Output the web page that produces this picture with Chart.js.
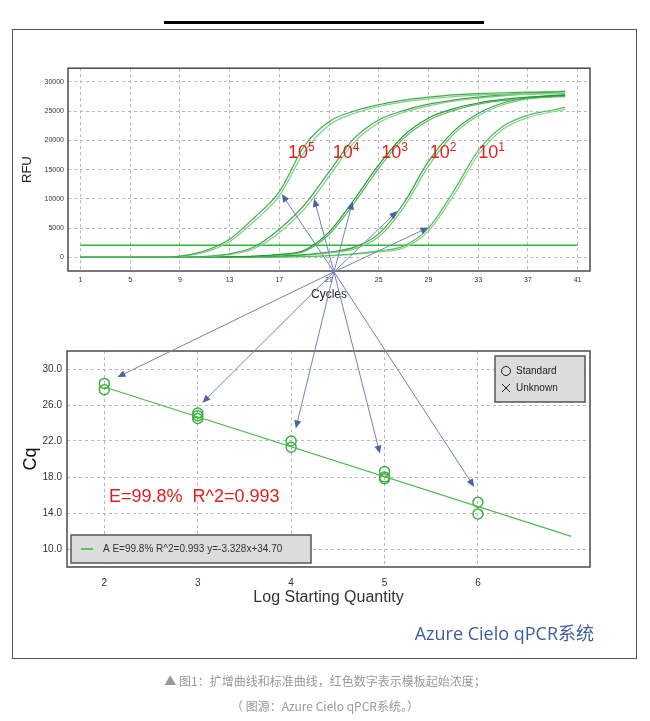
<!DOCTYPE html>
<html>
<head>
<meta charset="utf-8">
<script src="https://cdn.jsdelivr.net/npm/chart.js@4.4.0/dist/chart.umd.min.js"></script>
<style>
  body { margin: 0; background: #fff; }
  #page { position: relative; width: 650px; height: 721px; overflow: hidden; font-family: "Liberation Sans", Arial, sans-serif; }
  .bar { position: absolute; left: 164px; top: 21px; width: 320px; height: 3px; background: #000; }
  .frame { position: absolute; left: 12px; top: 29px; width: 623px; height: 628px; border: 1px solid #555; }
  .box { position: absolute; }
  #arrows { position: absolute; left: 0; top: 0; width: 650px; height: 721px; pointer-events: none; }
  .brand { position: absolute; right: 56px; top: 619px; font: 18px "Open Sans", "Noto Sans CJK SC", sans-serif; color: #3f5d9c; }
  .cap { position: absolute; left: 0; width: 650px; text-align: center; font: 12px "Noto Sans CJK SC", sans-serif; color: #999; }
</style>
</head>
<body>
<div id="page">
  <div class="bar"></div>
  <div class="frame"></div>
  <div class="box" style="left:20px;top:60px;width:580px;height:242px"><canvas id="amp"></canvas></div>
  <div class="box" style="left:20px;top:340px;width:580px;height:267px"><canvas id="std"></canvas></div>
  <canvas id="arrows"></canvas>
  <div class="brand">Azure Cielo qPCR系统</div>
  <div class="cap" style="top:672px">▲ 图1：扩增曲线和标准曲线，红色数字表示模板起始浓度；</div>
  <div class="cap" style="top:697px">（ 图源：Azure Cielo qPCR系统。）</div>
</div>
<script>
// amplification curves, RFU read per cycle
var cycles = [1, 3, 5, 7, 9, 11, 13, 15, 17, 19, 21, 23, 25, 27, 29, 31, 33, 35, 37, 39, 40];
var rfuA1 = [0, 0, 0, 20, 200, 1100, 3100, 6800, 11200, 19000, 23200, 25000, 26100, 26900, 27400, 27800, 28000, 28150, 28250, 28300, 28350];
var rfuA2 = [0, 0, 0, 10, 150, 850, 2700, 6200, 10500, 18000, 22600, 24600, 25800, 26600, 27100, 27500, 27750, 27900, 28000, 28050, 28100];
var rfuB1 = [0, 0, 0, 0, 20, 150, 600, 1800, 4800, 8900, 14600, 20300, 23500, 25100, 26200, 26900, 27400, 27800, 28100, 28300, 28450];
var rfuB2 = [0, 0, 0, 0, 10, 100, 450, 1500, 4200, 8200, 13800, 19600, 23000, 24800, 25900, 26700, 27200, 27600, 27850, 28000, 28050];
var rfuC1 = [0, 0, 0, 0, 0, 20, 80, 200, 500, 1200, 4300, 9800, 15800, 20800, 23800, 25400, 26400, 27000, 27400, 27600, 27700];
var rfuC2 = [0, 0, 0, 0, 0, 10, 50, 150, 400, 1000, 3900, 9200, 15200, 20300, 23400, 25100, 26200, 26800, 27200, 27450, 27500];
var rfuD1 = [0, 0, 0, 0, 0, 0, 20, 80, 200, 450, 900, 1700, 4000, 9200, 16400, 21500, 24600, 26400, 27300, 27700, 27800];
var rfuD2 = [0, 0, 0, 0, 0, 0, 10, 50, 150, 350, 750, 1400, 3500, 8500, 15600, 21000, 24200, 26100, 27100, 27500, 27650];
var rfuE1 = [0, 0, 0, 0, 0, 0, 0, 20, 60, 150, 300, 600, 1100, 1900, 5000, 11200, 18200, 22400, 24300, 25200, 25700];
var rfuE2 = [0, 0, 0, 0, 0, 0, 0, 10, 40, 100, 220, 480, 900, 1600, 4500, 10500, 17500, 21900, 23900, 24900, 25300];
var thresholdCycles = [1, 41];
var thresholdRFU = [2050, 2050];
var cycleTicks = [1, 5, 9, 13, 17, 21, 25, 29, 33, 37, 41];
var rfuTicks = [0, 5000, 10000, 15000, 20000, 25000, 30000];
var startExp = ['5', '4', '3', '2', '1'];

// standard curve
var stdLogQ = [2, 2, 3, 3, 3, 4, 4, 5, 5, 5, 6, 6];
var stdCq = [28.4, 27.7, 25.1, 24.8, 24.5, 22.0, 21.3, 18.6, 18.0, 17.8, 15.2, 13.9];
var fitLogQ = [2, 7];
var fitCq = [28.0, 11.4];
var logTicks = [2, 3, 4, 5, 6];
var cqTicks = [10, 14, 18, 22, 26, 30];

var FONT = '"Liberation Sans", Arial, sans-serif';

function xy(xs, ys) {
  return xs.map(function(x, i) { return {x: x, y: ys[i]}; });
}

function curve(ys, color) {
  return {
    data: xy(cycles, ys),
    borderColor: color,
    borderWidth: 1.2,
    pointRadius: 0,
    cubicInterpolationMode: 'monotone',
    fill: false
  };
}

function fixTicks(list) {
  return function(scale) { scale.ticks = list.map(function(v) { return {value: v}; }); };
}

var framePlugin = {
  id: 'frame',
  afterDraw: function(chart) {
    var a = chart.chartArea, ctx = chart.ctx;
    ctx.save();
    ctx.strokeStyle = '#4a4a4a';
    ctx.lineWidth = 1.5;
    ctx.strokeRect(a.left, a.top, a.right - a.left, a.bottom - a.top);
    ctx.restore();
  }
};

var powerLabels = {
  id: 'powerLabels',
  afterDraw: function(chart, args, opts) {
    var ctx = chart.ctx, sx = chart.scales.x, sy = chart.scales.y;
    ctx.save();
    ctx.fillStyle = '#e0201e';
    ctx.textBaseline = 'middle';
    startExp.forEach(function(e, i) {
      var px = sx.getPixelForValue(opts.at[i]), py = sy.getPixelForValue(opts.rfu);
      ctx.font = '18px ' + FONT;
      ctx.fillText('10', px, py);
      var w = ctx.measureText('10').width;
      ctx.font = '12px ' + FONT;
      ctx.fillText(e, px + w, py - 5);
    });
    ctx.restore();
  }
};

var stdDecor = {
  id: 'stdDecor',
  afterDraw: function(chart) {
    var a = chart.chartArea, ctx = chart.ctx, sx = chart.scales.x, sy = chart.scales.y;
    ctx.save();
    // legend, top right
    var lw = 90, lh = 46, lx = a.right - lw - 5, ly = a.top + 5;
    ctx.fillStyle = '#dcdcdc';
    ctx.fillRect(lx, ly, lw, lh);
    ctx.strokeStyle = '#555';
    ctx.lineWidth = 1.5;
    ctx.strokeRect(lx, ly, lw, lh);
    ctx.strokeStyle = '#222';
    ctx.lineWidth = 1;
    ctx.beginPath();
    ctx.arc(lx + 11, ly + 15, 4.5, 0, Math.PI * 2);
    ctx.stroke();
    ctx.beginPath();
    ctx.moveTo(lx + 7, ly + 28); ctx.lineTo(lx + 15, ly + 36);
    ctx.moveTo(lx + 15, ly + 28); ctx.lineTo(lx + 7, ly + 36);
    ctx.stroke();
    ctx.fillStyle = '#222';
    ctx.font = '10px ' + FONT;
    ctx.textBaseline = 'middle';
    ctx.fillText('Standard', lx + 21, ly + 15);
    ctx.fillText('Unknown', lx + 21, ly + 32);
    // fit legend, bottom left
    var bw = 240, bh = 28, bx = a.left + 4, by = a.bottom - bh - 4;
    ctx.fillStyle = '#dcdcdc';
    ctx.fillRect(bx, by, bw, bh);
    ctx.strokeStyle = '#555';
    ctx.lineWidth = 1.5;
    ctx.strokeRect(bx, by, bw, bh);
    ctx.strokeStyle = '#5cc45c';
    ctx.lineWidth = 2;
    ctx.beginPath();
    ctx.moveTo(bx + 10, by + bh / 2); ctx.lineTo(bx + 22, by + bh / 2);
    ctx.stroke();
    ctx.fillStyle = '#333';
    ctx.fillText('A E=99.8% R^2=0.993 y=-3.328x+34.70', bx + 32, by + bh / 2);
    // efficiency note
    ctx.fillStyle = '#e0201e';
    ctx.font = '18px ' + FONT;
    ctx.fillText('E=99.8%  R^2=0.993', sx.getPixelForValue(2.05), sy.getPixelForValue(15.75));
    ctx.restore();
  }
};

var gridOpts = {color: '#b8b8b8', lineWidth: 1, drawTicks: false};
var borderOpts = {display: false, dash: [3, 3]};

var ampChart = new Chart(document.getElementById('amp'), {
  type: 'line',
  data: {
    datasets: [
      curve(rfuA1, '#40ab4a'), curve(rfuA2, '#80cf87'),
      curve(rfuB1, '#40ab4a'), curve(rfuB2, '#80cf87'),
      curve(rfuC1, '#2b9636'), curve(rfuC2, '#55bb5e'),
      curve(rfuD1, '#36a541'), curve(rfuD2, '#76c97e'),
      curve(rfuE1, '#55bb5e'), curve(rfuE2, '#8ad390'),
      {data: xy(thresholdCycles, thresholdRFU), borderColor: '#2fb83a', borderWidth: 1.6, pointRadius: 0}
    ]
  },
  options: {
    responsive: true,
    maintainAspectRatio: false,
    animation: false,
    layout: {padding: {top: 8, right: 10, left: 0, bottom: 0}},
    plugins: {legend: {display: false}, tooltip: {enabled: false},
      powerLabels: {at: [17.7, 21.3, 25.2, 29.1, 33.0], rfu: 17850}},
    scales: {
      x: {
        type: 'linear', min: 0, max: 42,
        afterBuildTicks: fixTicks(cycleTicks),
        afterFit: function(s) { s.height = 31; },
        grid: gridOpts, border: borderOpts,
        ticks: {autoSkip: false, maxRotation: 0, padding: 5, color: '#333', font: {size: 7, family: FONT}},
        title: {display: true, text: 'Cycles', color: '#222', padding: {top: 2, bottom: 0}, font: {size: 12, family: FONT}}
      },
      y: {
        min: -2350, max: 32350,
        afterBuildTicks: fixTicks(rfuTicks),
        afterFit: function(s) { s.width = 48; },
        grid: gridOpts, border: borderOpts,
        ticks: {padding: 4, color: '#333', font: {size: 7, family: FONT}, callback: function(v) { return String(v); }},
        title: {display: true, text: 'RFU', color: '#222', padding: {top: 0, bottom: 4}, font: {size: 13, family: FONT}}
      }
    }
  },
  plugins: [framePlugin, powerLabels]
});

var stdChart = new Chart(document.getElementById('std'), {
  type: 'scatter',
  data: {
    datasets: [
      {type: 'line', data: xy(fitLogQ, fitCq), borderColor: '#4cbb4c', borderWidth: 1.2, pointRadius: 0},
      {data: xy(stdLogQ, stdCq), pointRadius: 5, borderWidth: 1.5, borderColor: '#3cb043', backgroundColor: 'rgba(0,0,0,0)'}
    ]
  },
  options: {
    responsive: true,
    maintainAspectRatio: false,
    animation: false,
    layout: {padding: {top: 9, right: 10, left: 0, bottom: 0}},
    plugins: {legend: {display: false}, tooltip: {enabled: false}},
    scales: {
      x: {
        type: 'linear', min: 1.6, max: 7.2,
        afterBuildTicks: fixTicks(logTicks),
        afterFit: function(s) { s.height = 40; },
        grid: gridOpts, border: borderOpts,
        ticks: {autoSkip: false, padding: 10, color: '#333', font: {size: 10, family: FONT}},
        title: {display: true, text: 'Log Starting Quantity', color: '#333', padding: {top: 3, bottom: 0}, font: {size: 16, family: FONT}}
      },
      y: {
        min: 8, max: 32,
        afterBuildTicks: fixTicks(cqTicks),
        afterFit: function(s) { s.width = 47; },
        grid: gridOpts, border: borderOpts,
        ticks: {padding: 5, color: '#333', font: {size: 10, family: FONT}, callback: function(v) { return v.toFixed(1); }},
        title: {display: true, text: 'Cq', color: '#111', padding: {top: 0, bottom: 2}, font: {size: 18, family: FONT}}
      }
    }
  },
  plugins: [framePlugin, stdDecor]
});

// arrows from one point under the amplification plot to each curve and each standard group
var arrowFrom = [21.4, -2500];
var arrowTop = [[17.2, 10800], [19.8, 10000], [22.9, 9500], [26.5, 7900], [29.0, 5100]];
var arrowBottom = [[2.14, 29.1], [3.05, 26.25], [4.05, 23.4], [4.95, 20.6], [5.96, 16.9]];

function drawArrows() {
  var ov = document.getElementById('arrows');
  var dpr = window.devicePixelRatio || 1;
  ov.width = 650 * dpr; ov.height = 721 * dpr;
  var ctx = ov.getContext('2d');
  ctx.scale(dpr, dpr);
  var page = document.getElementById('page').getBoundingClientRect();
  function toPage(chart, p) {
    var r = chart.canvas.getBoundingClientRect();
    return [r.left - page.left + chart.scales.x.getPixelForValue(p[0]),
            r.top - page.top + chart.scales.y.getPixelForValue(p[1])];
  }
  var o = toPage(ampChart, arrowFrom);
  var tips = arrowTop.map(function(p) { return toPage(ampChart, p); })
    .concat(arrowBottom.map(function(p) { return toPage(stdChart, p); }));
  tips.forEach(function(t) {
    var ang = Math.atan2(t[1] - o[1], t[0] - o[0]);
    ctx.strokeStyle = '#7182b8';
    ctx.lineWidth = 1;
    ctx.beginPath();
    ctx.moveTo(o[0], o[1]);
    ctx.lineTo(t[0] - 5 * Math.cos(ang), t[1] - 5 * Math.sin(ang));
    ctx.stroke();
    ctx.fillStyle = '#4a62a8';
    ctx.beginPath();
    ctx.moveTo(t[0], t[1]);
    ctx.lineTo(t[0] - 8 * Math.cos(ang) + 3.5 * Math.sin(ang), t[1] - 8 * Math.sin(ang) - 3.5 * Math.cos(ang));
    ctx.lineTo(t[0] - 8 * Math.cos(ang) - 3.5 * Math.sin(ang), t[1] - 8 * Math.sin(ang) + 3.5 * Math.cos(ang));
    ctx.closePath();
    ctx.fill();
  });
}
drawArrows();
</script>
</body>
</html>
